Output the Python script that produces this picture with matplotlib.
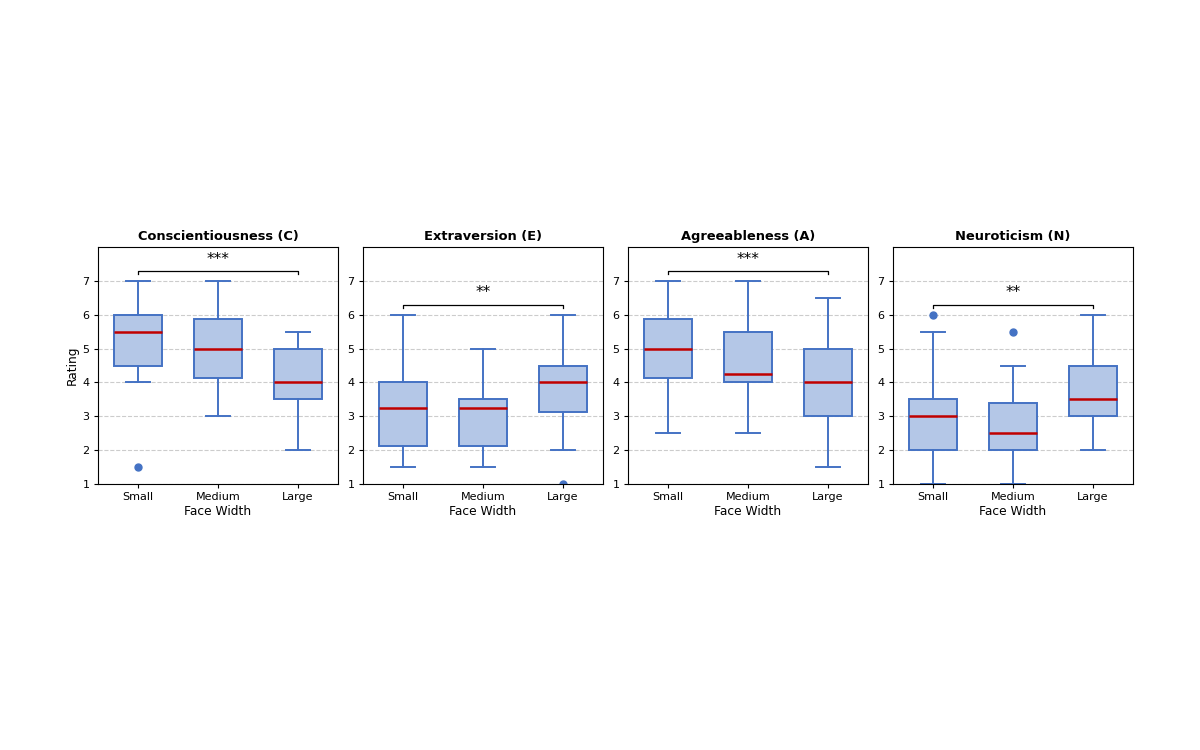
import matplotlib
matplotlib.use("Agg")
import matplotlib.pyplot as plt

# === DATOS ===
groups = ["Small", "Medium", "Large"]
traits = ["Conscientiousness (C)", "Extraversion (E)", "Agreeableness (A)", "Neuroticism (N)"]

# box stats per trait: [Small, Medium, Large]
whislo = [[4.0, 3.0, 2.0], [1.5, 1.5, 2.0], [2.5, 2.5, 1.5], [1.0, 1.0, 2.0]]
q1 = [[4.5, 4.12, 3.5], [2.12, 2.12, 3.12], [4.12, 4.0, 3.0], [2.0, 2.0, 3.0]]
med = [[5.5, 5.0, 4.0], [3.25, 3.25, 4.0], [5.0, 4.25, 4.0], [3.0, 2.5, 3.5]]
q3 = [[6.0, 5.88, 5.0], [4.0, 3.5, 4.5], [5.88, 5.5, 5.0], [3.5, 3.38, 4.5]]
whishi = [[7.0, 7.0, 5.5], [6.0, 5.0, 6.0], [7.0, 7.0, 6.5], [5.5, 4.5, 6.0]]
fliers = [[[1.5], [], []], [[], [], [1.0]], [[], [], []], [[6.0], [5.5], []]]

sig_labels = ["***", "**", "***", "**"]

# === ESTILO ===
EDGE = "#4472c4"
FILL = "#b4c7e7"
MED = "#c00000"

fig = plt.figure(figsize=(12, 7.5), dpi=100)

lefts = [98, 363, 628, 893]
for i, trait in enumerate(traits):
    ax = fig.add_axes([lefts[i] / 1200, (750 - 484) / 750, 240 / 1200, 237 / 750])

    stats = []
    for j, g in enumerate(groups):
        stats.append({
            "label": g,
            "whislo": whislo[i][j],
            "q1": q1[i][j],
            "med": med[i][j],
            "q3": q3[i][j],
            "whishi": whishi[i][j],
            "fliers": fliers[i][j],
        })

    ax.bxp(
        stats,
        positions=[1, 2, 3],
        widths=0.6,
        patch_artist=True,
        boxprops=dict(facecolor=FILL, edgecolor=EDGE, linewidth=1.4),
        whiskerprops=dict(color=EDGE, linewidth=1.4),
        capprops=dict(color=EDGE, linewidth=1.4),
        medianprops=dict(color=MED, linewidth=1.8),
        flierprops=dict(marker="o", markerfacecolor=EDGE, markeredgecolor=EDGE, markersize=5),
    )

    # corchete de significancia
    y = max(whishi[i]) + 0.3
    ax.plot([1, 1, 3, 3], [y - 0.1, y, y, y - 0.1], color="black", linewidth=0.9)
    ax.text(2, y + 0.12, sig_labels[i], ha="center", va="bottom", fontsize=11)

    ax.set_xlim(0.5, 3.5)
    ax.set_ylim(1, 8)
    ax.set_yticks(range(1, 8))
    ax.set_title(trait, fontsize=9.4, fontweight="bold", pad=5)
    ax.set_xlabel("Face Width", fontsize=8.8, labelpad=2)
    if i == 0:
        ax.set_ylabel("Rating", fontsize=8.8, labelpad=3)
    ax.tick_params(labelsize=8, length=3, pad=3)
    ax.yaxis.grid(True, linestyle="--", color="#cccccc", linewidth=0.8)
    ax.set_axisbelow(True)

plt.savefig("out.png", dpi=100)
plt.close()
